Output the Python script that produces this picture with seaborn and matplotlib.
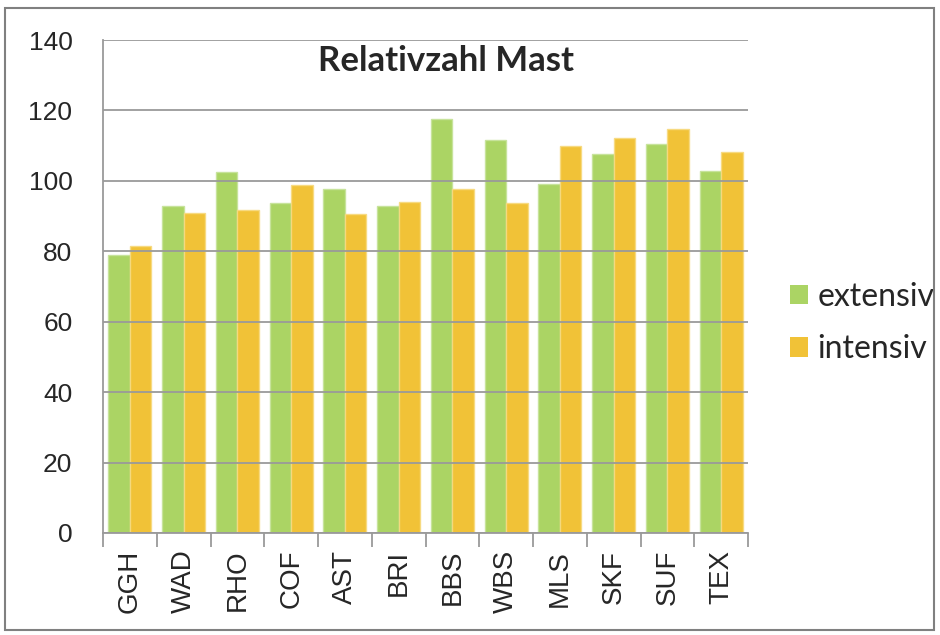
import numpy as np
import pandas as pd
import matplotlib
matplotlib.use('Agg')
import matplotlib.pyplot as plt
import seaborn as sns
from matplotlib.patches import Rectangle

categories = ['GGH', 'WAD', 'RHO', 'COF', 'AST', 'BRI', 'BBS', 'WBS', 'MLS', 'SKF', 'SUF', 'TEX']
extensiv = [79.0, 92.8, 102.4, 93.6, 97.6, 92.9, 117.6, 111.5, 99.1, 107.5, 110.4, 102.8]
intensiv = [81.5, 91.0, 91.8, 98.7, 90.6, 93.9, 97.6, 93.6, 110.0, 112.1, 114.7, 108.2]
series = ['extensiv', 'intensiv']
yticks = [0, 20, 40, 60, 80, 100, 120, 140]

df = pd.DataFrame({
    'cat': categories * 2,
    'value': extensiv + intensiv,
    'series': [series[0]] * len(categories) + [series[1]] * len(categories),
})

sns.set_style('white')
plt.rcParams['font.family'] = ['Liberation Sans', 'DejaVu Sans']

fig = plt.figure(figsize=(9.4, 6.35), dpi=100)
ax = fig.add_axes([103 / 940, 1 - 533 / 635, 645 / 940, 493 / 635])

sns.barplot(data=df, x='cat', y='value', hue='series', ax=ax,
            palette=['#A5D158', '#F0BE28'], width=0.8, gap=0,
            saturation=1, alpha=0.93, linewidth=0, zorder=2)

# thin light outline like the original
for cont, edge in zip(ax.containers, ['#C6E39A', '#F7DA80']):
    for b in cont:
        b.set_edgecolor(edge)
        b.set_linewidth(1.0)
        b.set_zorder(2)

ax.set_ylim(0, 140)
ax.set_xlim(-0.5, len(categories) - 0.5)
ax.set_yticks(yticks)
ax.yaxis.grid(True, color='#9a9a9a', linewidth=1.3, zorder=3)
ax.set_axisbelow(False)
ax.tick_params(axis='y', labelsize=19, length=10, width=1.3, color='#9a9a9a', pad=12)
ax.set_xticks(range(len(categories)))
ax.set_xticklabels(categories)
ax.tick_params(axis='x', labelsize=20, length=0, pad=12, labelrotation=90)
ax.set_xticks(np.arange(-0.5, len(categories)), minor=True)
ax.tick_params(axis='x', which='minor', length=10, width=1.3, color='#9a9a9a', bottom=True)
ax.set_xlabel('')
ax.set_ylabel('')
for s in ['top', 'right']:
    ax.spines[s].set_visible(False)
for s in ['left', 'bottom']:
    ax.spines[s].set_color('#9a9a9a')
    ax.spines[s].set_linewidth(1.3)
    ax.spines[s].set_zorder(4)

fig.text(446 / 940, 1 - 45 / 635, 'Relativzahl Mast', ha='center', va='top',
         fontsize=25, fontweight='bold', family=['Lato', 'DejaVu Sans'])

ax.legend(loc='center left', bbox_to_anchor=(790 / 940, 1 - 323 / 635),
          bbox_transform=fig.transFigure, frameon=False, borderpad=0, borderaxespad=0,
          prop={'family': ['Lato', 'DejaVu Sans'], 'size': 23}, handlelength=0.55,
          handleheight=0.55, handletextpad=0.3, labelspacing=0.7)

fig.patches.append(Rectangle((5 / 940, 5 / 635), 929 / 940, 622 / 635, transform=fig.transFigure,
                             fill=False, edgecolor='#808080', linewidth=1.5))

fig.savefig('out.png', dpi=100)
